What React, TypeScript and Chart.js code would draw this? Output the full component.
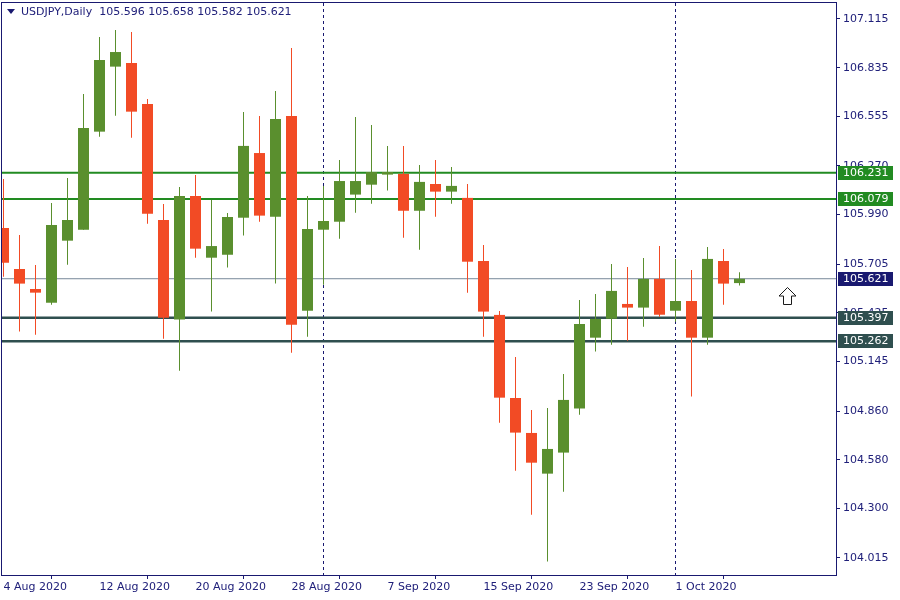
import React, { useEffect, useRef } from "react";
import { Chart, registerables } from "chart.js";

Chart.register(...registerables);

// ---- data ----
const symbolTitle = "USDJPY,Daily";

const dates = [
  "2020-08-04", "2020-08-05", "2020-08-06", "2020-08-07", "2020-08-10", "2020-08-11",
  "2020-08-12", "2020-08-13", "2020-08-14", "2020-08-17", "2020-08-18", "2020-08-19",
  "2020-08-20", "2020-08-21", "2020-08-24", "2020-08-25", "2020-08-26", "2020-08-27",
  "2020-08-28", "2020-08-31", "2020-09-01", "2020-09-02", "2020-09-03", "2020-09-04",
  "2020-09-07", "2020-09-08", "2020-09-09", "2020-09-10", "2020-09-11", "2020-09-14",
  "2020-09-15", "2020-09-16", "2020-09-17", "2020-09-18", "2020-09-21", "2020-09-22",
  "2020-09-23", "2020-09-24", "2020-09-25", "2020-09-28", "2020-09-29", "2020-09-30",
  "2020-10-01", "2020-10-02", "2020-10-05", "2020-10-06", "2020-10-07",
];

const opens = [
  105.913, 105.677, 105.562, 105.483, 105.840, 105.903, 106.467, 106.841, 106.862, 106.626,
  105.959, 105.386, 106.097, 105.742, 105.759, 105.972, 106.344, 105.978, 106.557, 105.437,
  105.903, 105.949, 106.105, 106.162, 106.220, 106.224, 106.012, 106.166, 106.122, 106.086,
  105.723, 105.413, 104.935, 104.734, 104.500, 104.621, 104.874, 105.282, 105.391, 105.476,
  105.455, 105.620, 105.437, 105.493, 105.282, 105.723, 105.596,
];
const highs = [
  106.195, 105.873, 105.700, 106.057, 106.201, 106.684, 107.012, 107.052, 107.040, 106.655,
  106.051, 106.149, 106.218, 106.074, 105.999, 106.580, 106.557, 106.701, 106.948, 106.097,
  106.155, 106.304, 106.551, 106.505, 106.385, 106.385, 106.275, 106.304, 106.264, 106.166,
  105.815, 105.436, 105.171, 104.866, 104.878, 105.073, 105.499, 105.533, 105.706, 105.689,
  105.740, 105.809, 105.735, 105.671, 105.804, 105.792, 105.658,
];
const lows = [
  105.633, 105.317, 105.299, 105.472, 105.702, 105.903, 106.438, 106.559, 106.432, 105.938,
  105.276, 105.092, 105.742, 105.432, 105.685, 105.869, 105.949, 105.593, 105.196, 105.288,
  105.587, 105.851, 106.001, 106.053, 106.128, 105.857, 105.788, 105.978, 106.053, 105.541,
  105.288, 104.793, 104.517, 104.264, 103.994, 104.396, 104.839, 105.202, 105.242, 105.265,
  105.345, 105.403, 105.374, 104.943, 105.242, 105.472, 105.582,
];
const closes = [
  105.713, 105.593, 105.541, 105.930, 105.959, 106.488, 106.879, 106.925, 106.582, 105.995,
  105.397, 106.097, 105.794, 105.809, 105.976, 106.385, 105.984, 106.540, 105.357, 105.907,
  105.953, 106.183, 106.183, 106.235, 106.235, 106.012, 106.178, 106.122, 106.155, 105.719,
  105.432, 104.937, 104.736, 104.563, 104.642, 104.924, 105.361, 105.390, 105.551, 105.455,
  105.620, 105.414, 105.493, 105.282, 105.735, 105.593, 105.621,
];

const priceTicks = [
  107.115, 106.835, 106.555, 106.27, 105.99, 105.705, 105.425, 105.145, 104.86, 104.58, 104.3, 104.015,
];
const greenLevels = [106.231, 106.079];
const darkLevels = [105.397, 105.262];
const bidPrice = 105.621;
const dateTickStep = 6;
const arrowMark = { index: 49, price: 105.574 };

// ---- styling ----
const NAVY = "#191970";
const TEXT = "#20207a";
const BULL = "#5a8f2e";
const BEAR = "#f24b25";
const GREEN_LINE = "#228b22";
const DARK_LINE = "#2f4f4f";
const BID_LINE = "#778899";
const FONT = "DejaVu Sans";

const X_MIN = -0.09375;
const X_MAX = 52.03125;
const Y_MIN = 103.917;
const Y_MAX = 107.207;

const MONTHS = ["Jan", "Feb", "Mar", "Apr", "May", "Jun", "Jul", "Aug", "Sep", "Oct", "Nov", "Dec"];
const fmtDate = (s: string) => {
  const [y, m, d] = s.split("-").map(Number);
  return `${d} ${MONTHS[m - 1]} ${y}`;
};

const monthStarts = dates
  .map((d, i) => (i > 0 && d.slice(5, 7) !== dates[i - 1].slice(5, 7) ? i : -1))
  .filter((i) => i >= 0);

const overlayPlugin = {
  id: "overlay",
  beforeDatasetsDraw(chart: any) {
    const { ctx, chartArea, scales } = chart;
    const x = scales.x;
    ctx.save();
    ctx.beginPath();
    ctx.rect(chartArea.left, chartArea.top, chartArea.right - chartArea.left, chartArea.bottom - chartArea.top);
    ctx.clip();
    ctx.strokeStyle = NAVY;
    ctx.lineWidth = 1;
    ctx.setLineDash([3, 3]);
    monthStarts.forEach((i) => {
      const px = Math.floor(x.getPixelForValue(i)) + 0.5;
      ctx.beginPath();
      ctx.moveTo(px, chartArea.top);
      ctx.lineTo(px, chartArea.bottom);
      ctx.stroke();
    });
    ctx.restore();
  },
  afterDatasetsDraw(chart: any) {
    const { ctx, scales } = chart;
    const ax = scales.x.getPixelForValue(arrowMark.index);
    const ay = Math.round(scales.y.getPixelForValue(arrowMark.price)) + 0.5;
    ctx.save();
    ctx.beginPath();
    ctx.moveTo(ax, ay);
    ctx.lineTo(ax + 8.5, ay + 8.5);
    ctx.lineTo(ax + 4, ay + 8.5);
    ctx.lineTo(ax + 4, ay + 17);
    ctx.lineTo(ax - 4, ay + 17);
    ctx.lineTo(ax - 4, ay + 8.5);
    ctx.lineTo(ax - 8.5, ay + 8.5);
    ctx.closePath();
    ctx.fillStyle = "#ffffff";
    ctx.fill();
    ctx.strokeStyle = "#1a1a1a";
    ctx.lineWidth = 1;
    ctx.stroke();
    ctx.restore();
  },
  afterDraw(chart: any) {
    const { ctx, chartArea, scales } = chart;
    const y = scales.y;
    ctx.save();
    // frame
    ctx.strokeStyle = NAVY;
    ctx.lineWidth = 1;
    ctx.strokeRect(
      chartArea.left - 0.5,
      chartArea.top - 0.5,
      chartArea.right - chartArea.left + 1,
      chartArea.bottom - chartArea.top + 1
    );
    // title
    ctx.fillStyle = NAVY;
    ctx.beginPath();
    ctx.moveTo(chartArea.left + 5, chartArea.top + 6);
    ctx.lineTo(chartArea.left + 13, chartArea.top + 6);
    ctx.lineTo(chartArea.left + 9, chartArea.top + 11);
    ctx.closePath();
    ctx.fill();
    const last = opens.length - 1;
    const ohlc = [opens[last], highs[last], lows[last], closes[last]].map((v) => v.toFixed(3)).join(" ");
    ctx.font = `11px "${FONT}"`;
    ctx.textBaseline = "middle";
    ctx.textAlign = "left";
    ctx.fillStyle = TEXT;
    ctx.fillText(`${symbolTitle}  ${ohlc}`, chartArea.left + 19, chartArea.top + 9);
    // level labels
    const labels: [number, string][] = [
      ...greenLevels.map((v) => [v, GREEN_LINE] as [number, string]),
      ...darkLevels.map((v) => [v, DARK_LINE] as [number, string]),
      [bidPrice, NAVY],
    ];
    labels.forEach(([v, c]) => {
      const py = Math.round(y.getPixelForValue(v));
      ctx.fillStyle = c;
      ctx.fillRect(chartArea.right + 2, py - 7, 55, 14);
      ctx.fillStyle = "#ffffff";
      ctx.fillText(v.toFixed(3), chartArea.right + 7, py);
    });
    ctx.restore();
  },
};

export default function App() {
  const ref = useRef<HTMLCanvasElement | null>(null);

  useEffect(() => {
    if (!ref.current) return;
    const idx = dates.map((_, i) => i);
    const levelLine = (v: number, color: string, width: number) => ({
      type: "line" as const,
      data: [
        { x: X_MIN, y: v },
        { x: X_MAX, y: v },
      ],
      borderColor: color,
      borderWidth: width,
      pointRadius: 0,
      order: 5,
    });
    const colors = idx.map((i) => (closes[i] >= opens[i] ? BULL : BEAR));

    const chart = new Chart(ref.current, {
      type: "bar",
      data: {
        datasets: [
          ...greenLevels.map((v) => levelLine(v, GREEN_LINE, 2)),
          ...darkLevels.map((v) => levelLine(v, DARK_LINE, 2.5)),
          levelLine(bidPrice, BID_LINE, 1),
          {
            type: "bar" as const,
            data: idx.map((i) => ({ x: i, y: [lows[i], highs[i]] })),
            backgroundColor: colors,
            barThickness: 1,
            grouped: false,
            inflateAmount: 0,
            order: 2,
          } as any,
          {
            type: "bar" as const,
            data: idx.map((i) => ({ x: i, y: [opens[i], closes[i]] })),
            backgroundColor: colors,
            barThickness: 11,
            grouped: false,
            inflateAmount: 0,
            minBarLength: 1,
            order: 1,
          } as any,
        ] as any,
      },
      options: {
        responsive: false,
        animation: false,
        events: [],
        layout: { padding: { left: 2, top: 3, right: 0, bottom: 0 } },
        plugins: { legend: { display: false }, tooltip: { enabled: false } },
        scales: {
          x: {
            type: "linear",
            min: X_MIN,
            max: X_MAX,
            bounds: "data",
            offset: false,
            afterBuildTicks: (s: any) => {
              s.ticks = idx.filter((i) => i % dateTickStep === 0).map((v) => ({ value: v }));
            },
            afterFit: (s: any) => {
              s.height = 25;
              s.paddingLeft = 0;
              s.paddingRight = 0;
              s.paddingTop = 0;
              s.paddingBottom = 0;
            },
            grid: { drawOnChartArea: false, drawTicks: true, tickLength: 4, color: NAVY },
            border: { display: false },
            ticks: {
              autoSkip: false,
              maxRotation: 0,
              minRotation: 0,
              align: "start",
              padding: 2,
              color: TEXT,
              font: { family: FONT, size: 11 },
              callback: (v: any) => fmtDate(dates[Math.round(Number(v))] ?? ""),
            },
          },
          y: {
            type: "linear",
            position: "right",
            min: Y_MIN,
            max: Y_MAX,
            bounds: "data",
            afterBuildTicks: (s: any) => {
              s.ticks = priceTicks.map((v) => ({ value: v }));
            },
            afterFit: (s: any) => {
              s.width = 64;
              s.paddingLeft = 0;
              s.paddingRight = 0;
              s.paddingTop = 0;
              s.paddingBottom = 0;
            },
            grid: { drawOnChartArea: false, drawTicks: true, tickLength: 4, color: NAVY },
            border: { display: false },
            ticks: {
              padding: 3,
              color: TEXT,
              font: { family: FONT, size: 11 },
              callback: (v: any) => Number(v).toFixed(3),
            },
          },
        },
      } as any,
      plugins: [overlayPlugin],
    });
    return () => chart.destroy();
  }, []);

  return (
    <div style={{ position: "fixed", left: 0, top: 0, width: 900, height: 600, background: "#ffffff" }}>
      <canvas ref={ref} width={900} height={600} style={{ display: "block", width: 900, height: 600 }} />
    </div>
  );
}
